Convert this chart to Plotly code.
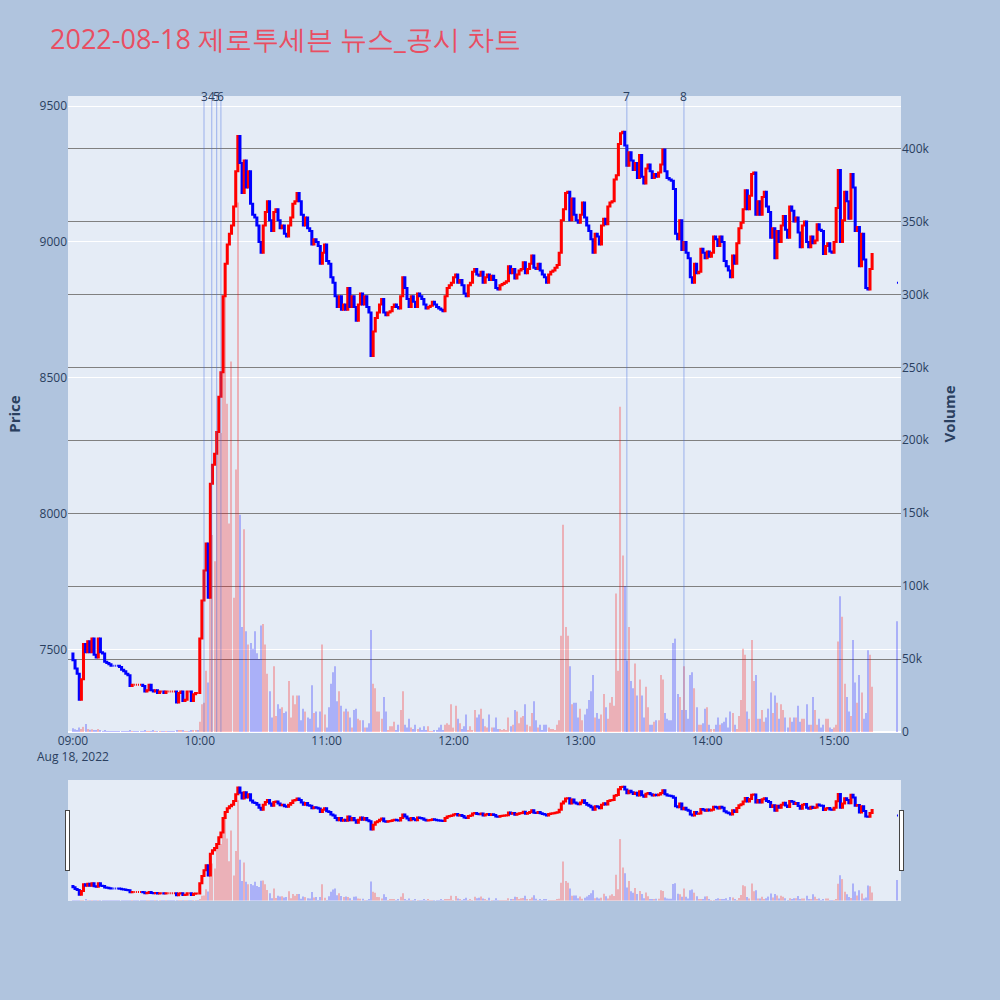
import pandas as pd
import plotly.graph_objects as go
from plotly.subplots import make_subplots

trade_date = "2022-08-18"
chart_title = "2022-08-18 제로투세븐 뉴스_공시 차트"

first_open = 7485
# 1-minute closes, 09:00 .. 15:18
close_0900 = [7460, 7430, 7410, 7315, 7390, 7520, 7490, 7530, 7490, 7540,
              7480, 7470, 7540, 7490, 7485, 7455, 7450, 7445, 7440, 7440,
              7440, 7440, 7435, 7425, 7420, 7410, 7405, 7365, 7370, 7370,
              7370, 7370, 7370, 7365, 7345, 7350, 7370, 7350, 7345, 7350,
              7340, 7345, 7345, 7340, 7345, 7345, 7345, 7345, 7345, 7305,
              7340, 7345, 7310, 7315, 7345, 7345, 7310, 7335, 7340, 7340]
close_1000 = [7540, 7680, 7790, 7890, 7690, 8110, 8180, 8220, 8300, 8430,
              8520, 8800, 8920, 8990, 9030, 9060, 9130, 9260, 9390, 9290,
              9180, 9300, 9200, 9260, 9140, 9100, 9090, 9060, 9000, 8960,
              9060, 9110, 9150, 9080, 9040, 9110, 9120, 9080, 9050, 9060,
              9030, 9020, 9060, 9090, 9140, 9150, 9180, 9150, 9100, 9060,
              9090, 9050, 9040, 8990, 9010, 9000, 8985, 8920, 8960, 8990]
close_1100 = [8930, 8920, 8870, 8850, 8800, 8760, 8800, 8750, 8770, 8750,
              8830, 8760, 8800, 8760, 8710, 8770, 8810, 8770, 8800, 8760,
              8740, 8580, 8670, 8720, 8740, 8770, 8790, 8740, 8730, 8740,
              8745, 8760, 8770, 8760, 8755, 8800, 8870, 8830, 8790, 8760,
              8800, 8780, 8760, 8810, 8800, 8790, 8770, 8755, 8760, 8765,
              8780, 8770, 8760, 8755, 8750, 8745, 8800, 8830, 8840, 8850]
close_1200 = [8870, 8880, 8850, 8860, 8840, 8810, 8800, 8840, 8850, 8890,
              8900, 8880, 8875, 8890, 8850, 8870, 8880, 8860, 8875, 8860,
              8830, 8825, 8840, 8845, 8850, 8855, 8910, 8885, 8900, 8865,
              8880, 8895, 8900, 8925, 8885, 8900, 8920, 8950, 8905, 8900,
              8920, 8895, 8880, 8870, 8850, 8880, 8890, 8895, 8905, 8915,
              8960, 9080, 9120, 9180, 9185, 9080, 9160, 9100, 9080, 9070]
close_1300 = [9100, 9145, 9090, 9060, 9040, 9010, 8960, 9030, 9020, 8990,
              9060, 9085, 9065, 9130, 9145, 9150, 9230, 9245, 9360, 9400,
              9405, 9355, 9280, 9330, 9300, 9265, 9290, 9235, 9320, 9240,
              9215, 9270, 9285, 9260, 9235, 9250, 9240, 9255, 9285, 9340,
              9260, 9235, 9230, 9225, 9195, 9030, 9010, 9080, 8970, 9000,
              8960, 8940, 8870, 8850, 8920, 8885, 8890, 8975, 8960, 8940]
close_1400 = [8965, 8945, 8960, 9020, 9010, 8985, 9020, 9000, 8930, 8910,
              8895, 8870, 8950, 8920, 8995, 9050, 9070, 9120, 9190, 9120,
              9170, 9250, 9255, 9100, 9150, 9100, 9165, 9185, 9130, 9110,
              9015, 9050, 8940, 9040, 9000, 9060, 9095, 9045, 9015, 9130,
              9115, 9075, 9090, 9035, 8980, 9060, 9075, 9000, 8980, 9020,
              8995, 9005, 9065, 9045, 9040, 8955, 8985, 8995, 8965, 8960]
close_1500 = [9000, 9125, 9265, 9000, 9080, 9185, 9150, 9085, 9250, 9200,
              9040, 9055, 8910, 9030, 8935, 8830, 8825, 8900, 8955]

vol_0900 = [2500, 1800, 1200, 3000, 2000, 3500, 5500, 2000, 1500, 1800,
            1200, 800, 2000, 1000, 500, 900, 400, 500, 600, 300,
            200, 150, 200, 400, 300, 500, 400, 900, 200, 100,
            100, 150, 100, 300, 800, 400, 600, 500, 700, 400,
            600, 300, 300, 500, 200, 100, 100, 150, 200, 1200,
            900, 700, 1000, 500, 600, 300, 1200, 800, 900, 700]
vol_1000 = [7000, 19000, 20000, 42000, 34000, 159000, 135000, 117000, 205000, 230000,
            205000, 290000, 300000, 225000, 143000, 254000, 92000, 180000, 363000, 149000,
            72000, 139000, 69000, 60000, 61000, 57000, 69000, 54000, 50000, 73000,
            74000, 60000, 40000, 28000, 10000, 45000, 11000, 19000, 16000, 17000,
            13000, 14000, 35000, 10000, 25000, 19000, 25000, 25000, 8000, 16000,
            14000, 10000, 9000, 32000, 13000, 14000, 3000, 14000, 60000, 12000]
vol_1100 = [3000, 17000, 33000, 41000, 45000, 21000, 28000, 18000, 14000, 16000,
            14000, 10000, 3000, 15000, 16000, 9000, 8000, 8000, 3000, 3000,
            6000, 70000, 33000, 30000, 14000, 14000, 9000, 24000, 14000, 1000,
            4000, 4000, 7000, 1000, 5000, 15000, 28000, 5000, 3000, 9000,
            3000, 2000, 5000, 2000, 3000, 1000, 4000, 1000, 4000, 500,
            500, 1000, 1000, 3000, 5000, 1000, 5000, 6000, 5000, 19000]
vol_1200 = [3000, 18000, 9000, 6000, 2000, 4000, 12000, 1000, 4000, 1000,
            15000, 10000, 12000, 16000, 9000, 4000, 3000, 12000, 3000, 3000,
            10000, 2000, 2000, 1000, 2000, 1000, 10000, 4000, 5000, 15000,
            14000, 6000, 10000, 11000, 19000, 5000, 4000, 13000, 21000, 8000,
            3000, 5000, 1000, 5000, 5000, 3000, 2000, 2000, 1000, 5000,
            8000, 66000, 142000, 72000, 66000, 45000, 19000, 20000, 20000, 10000]
vol_1300 = [16000, 8000, 12000, 16000, 22000, 28000, 39000, 10000, 13000, 9000,
            12000, 26000, 17000, 9000, 20000, 24000, 18000, 95000, 42000, 223000,
            121000, 100000, 49000, 72000, 35000, 30000, 47000, 25000, 36000, 25000,
            10000, 31000, 17000, 5000, 5000, 7000, 8000, 8000, 39000, 36000,
            13000, 9000, 8000, 8000, 61000, 64000, 26000, 24000, 15000, 45000,
            15000, 9000, 39000, 41000, 30000, 17000, 5000, 5000, 6000, 16000]
vol_1400 = [17000, 5000, 2000, 2000, 5000, 10000, 5000, 6000, 7000, 10000,
            3000, 14000, 13000, 5000, 2000, 11000, 22000, 57000, 53000, 14000,
            9000, 63000, 35000, 39000, 9000, 9000, 15000, 7000, 10000, 16000,
            27000, 13000, 25000, 20000, 9000, 19000, 15000, 10000, 3000, 10000,
            7000, 10000, 10000, 18000, 7000, 9000, 9000, 19000, 5000, 5000,
            24000, 15000, 5000, 9000, 3000, 5000, 9000, 9000, 3000, 2000]
vol_1500 = [3000, 5000, 62000, 93000, 79000, 33000, 24000, 14000, 11000, 63000,
            34000, 20000, 39000, 27000, 9000, 13000, 56000, 53000, 31000]

auction_time = "2022-08-18 15:30"
auction_price = 8850
auction_volume = 76000

event_times = ["2022-08-18 10:02", "2022-08-18 10:05:40", "2022-08-18 10:08",
               "2022-08-18 10:10", "2022-08-18 13:22", "2022-08-18 13:49"]
event_labels = ["3", "4", "5", "6", "7", "8"]

# ---- assemble ----
close_prices = close_0900 + close_1000 + close_1100 + close_1200 + close_1300 + close_1400 + close_1500
volumes = vol_0900 + vol_1000 + vol_1100 + vol_1200 + vol_1300 + vol_1400 + vol_1500

times = list(pd.date_range(f"{trade_date} 09:00", periods=len(close_prices), freq="min"))
times.append(pd.Timestamp(auction_time))
opens = [first_open] + close_prices[:-1] + [auction_price]
closes = close_prices + [auction_price]
highs = [max(o, c) for o, c in zip(opens, closes)]
lows = [min(o, c) for o, c in zip(opens, closes)]
vols = volumes + [auction_volume]

bar_colors = []
prev = first_open
for o, c in zip(opens, closes):
    up = c > o or (c == o and c > prev)
    bar_colors.append("red" if up else "blue")
    prev = c

fig = make_subplots(specs=[[{"secondary_y": True}]])
fig.add_trace(go.Candlestick(
    x=times, open=opens, high=highs, low=lows, close=closes,
    increasing=dict(line=dict(color="red", width=2), fillcolor="red"),
    decreasing=dict(line=dict(color="blue", width=2), fillcolor="blue"),
    showlegend=False, name="Price"), secondary_y=False)
fig.add_trace(go.Bar(
    x=times, y=vols, marker=dict(color=bar_colors, line=dict(width=0)),
    opacity=0.25, showlegend=False, name="Volume"), secondary_y=True)

for t, lab in zip(event_times, event_labels):
    fig.add_shape(type="line", xref="x", yref="paper", x0=t, x1=t, y0=0, y1=1,
                  line=dict(color="rgba(65,105,225,0.45)", width=1))
    fig.add_annotation(x=t, y=1, xref="x", yref="paper", text=lab, showarrow=False,
                       yanchor="middle", font=dict(size=12, color="#2a3f5f"))

fig.update_layout(
    width=1000, height=1000,
    paper_bgcolor="lightsteelblue",
    plot_bgcolor="#E5ECF6",
    title=dict(text=chart_title, x=0.05, xanchor="left", y=0.96, yanchor="middle",
               font=dict(size=27, color="#E94E62")),
    margin=dict(l=68, r=99, t=96, b=100),
    showlegend=False,
    bargap=0.5,
)
fig.update_xaxes(
    domain=[0, 1],
    range=["2022-08-18 08:57:40", "2022-08-18 15:31:40"],
    showgrid=False,
    rangeslider=dict(visible=True, thickness=0.15, bgcolor="#E5ECF6"),
)
fig.update_yaxes(title=dict(text="Price", font=dict(size=15, weight="bold")),
                 range=[7196, 9537], dtick=500, gridcolor="white", automargin=False,
                 secondary_y=False)
fig.update_yaxes(title=dict(text="Volume", font=dict(size=15, weight="bold")),
                 range=[0, 436000], dtick=50000, gridcolor="gray", automargin=False,
                 showgrid=True, secondary_y=True)

fig.write_html(
    "out.html",
    config={"displayModeBar": False},
    post_script="document.body.style.margin='0px';"
                "document.body.style.backgroundColor='lightsteelblue';",
)
